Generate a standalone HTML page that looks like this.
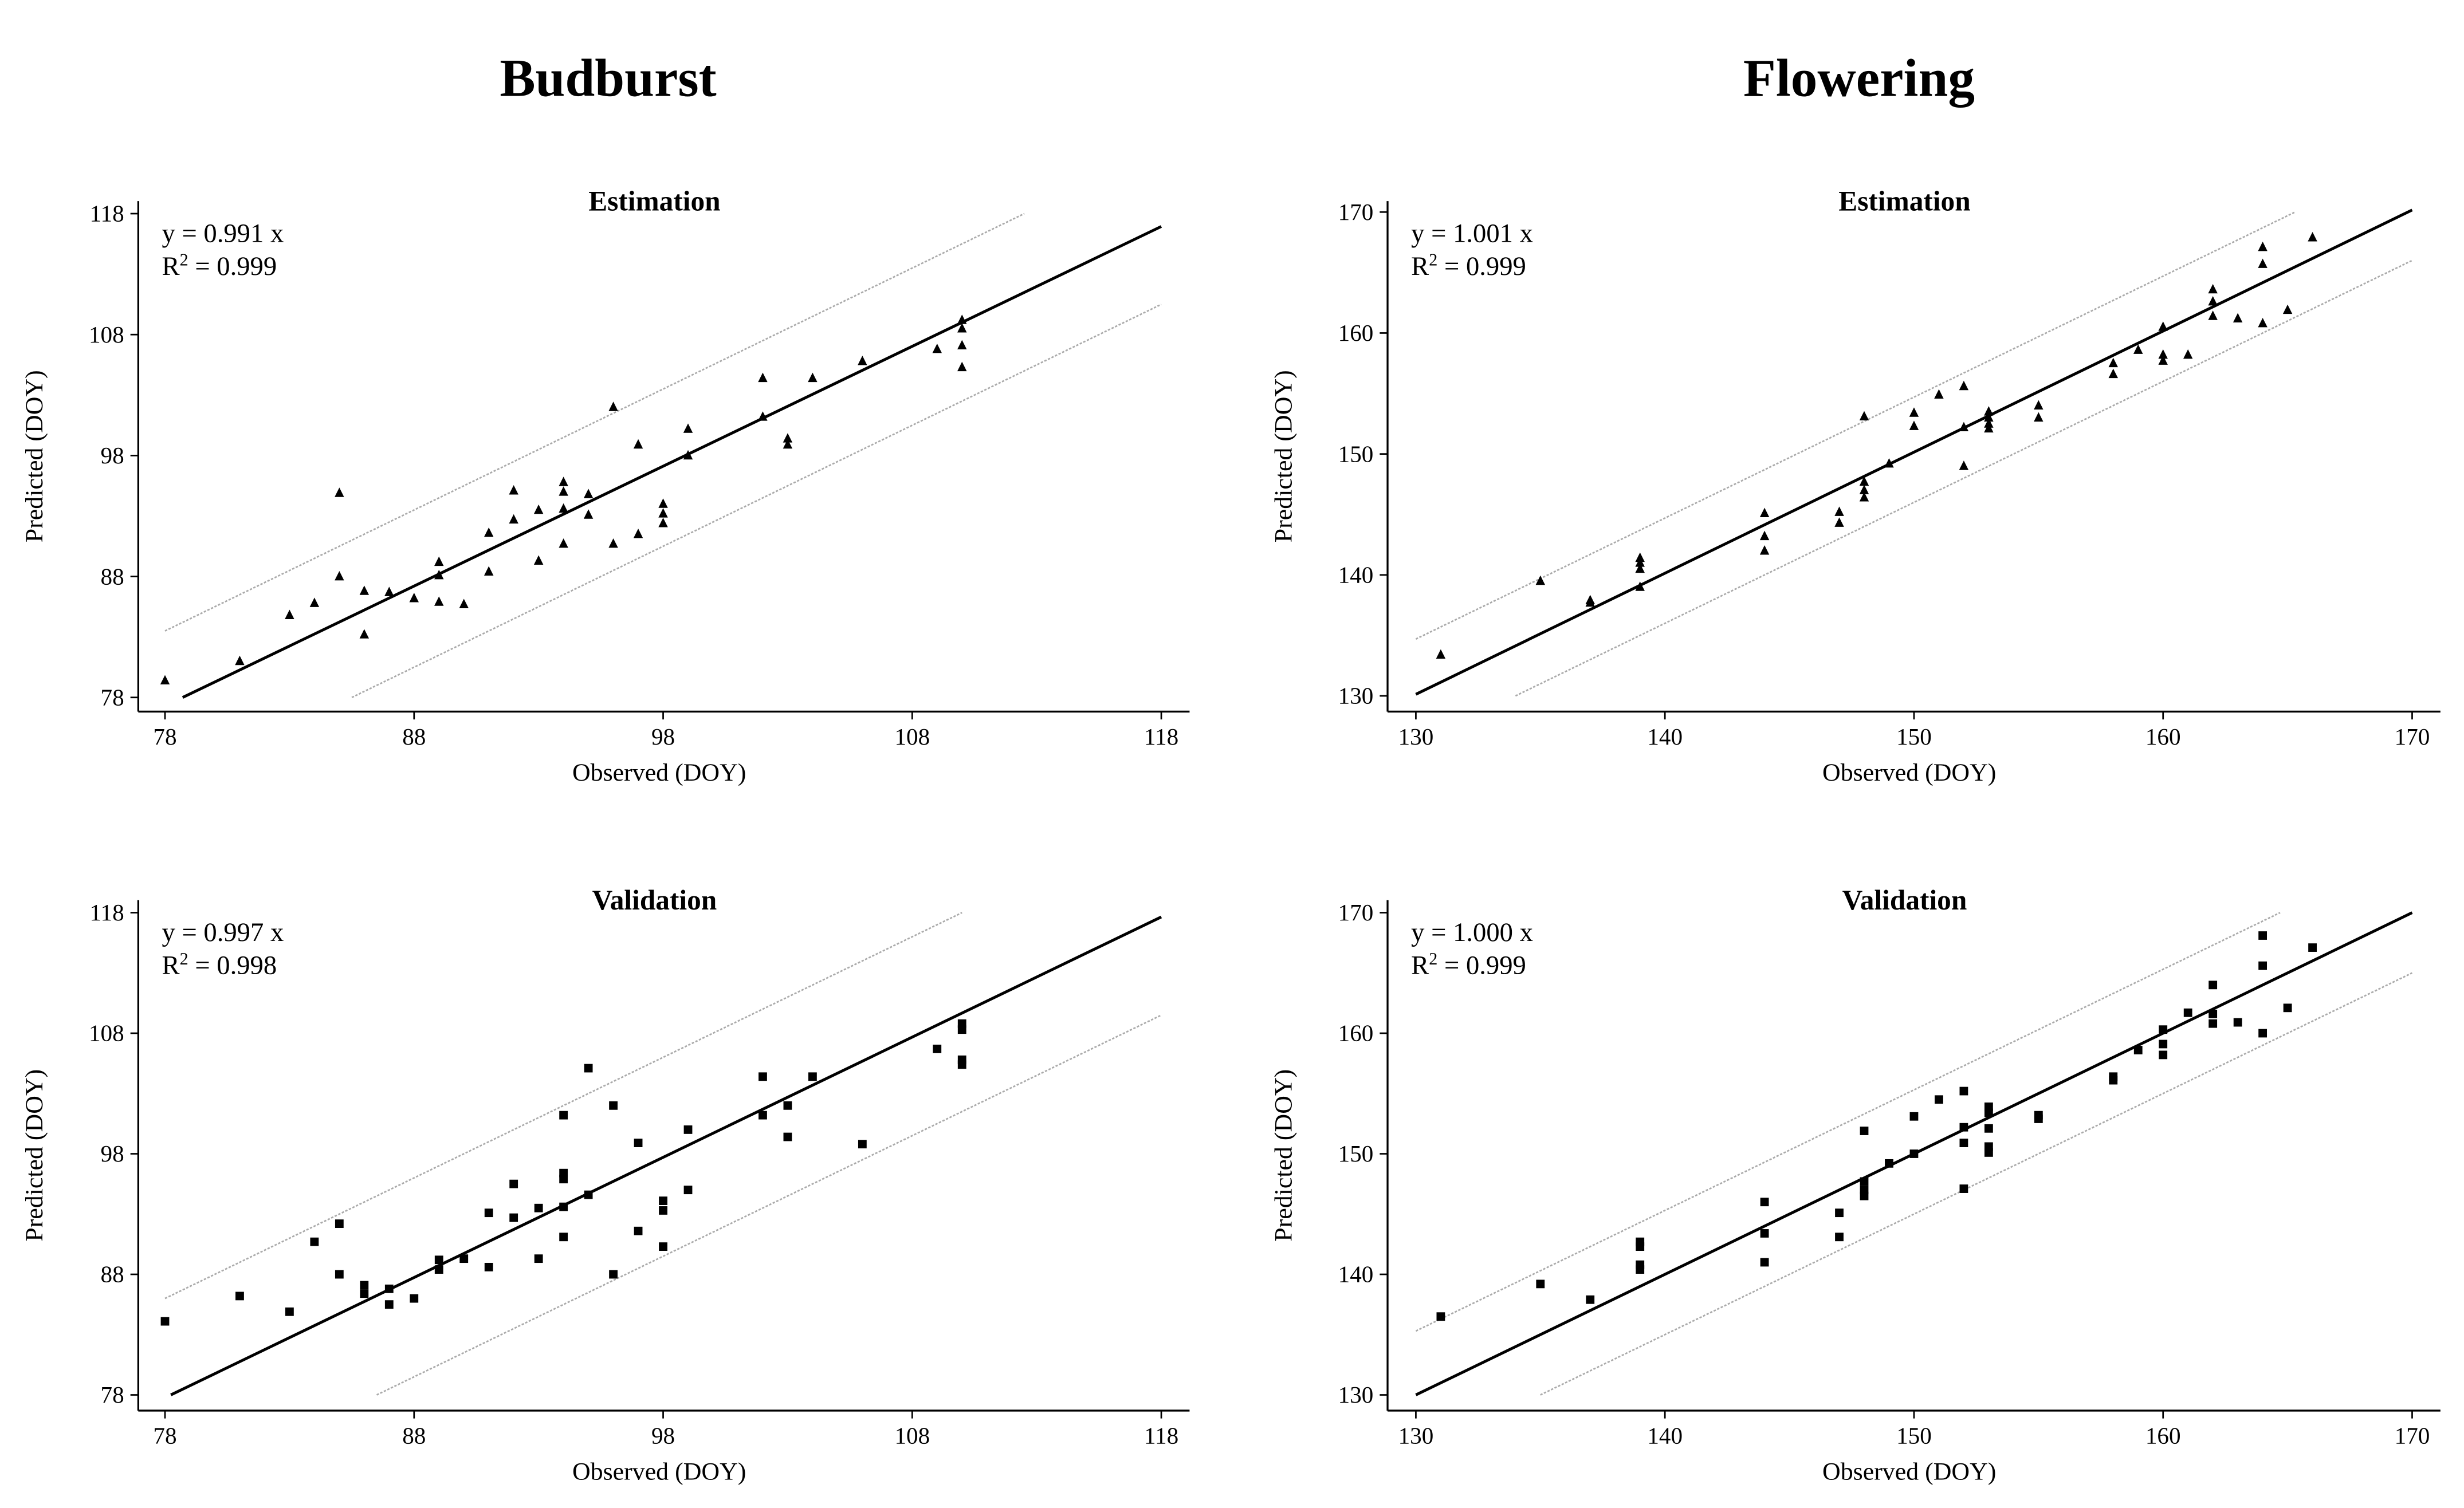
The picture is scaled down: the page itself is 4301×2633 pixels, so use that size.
<!DOCTYPE html>
<html><head><meta charset="utf-8"><style>
html,body{margin:0;padding:0;background:#fff;}
svg{display:block;font-family:"Liberation Serif",serif;}
</style></head><body>
<svg id="chart" width="4301" height="2633" viewBox="0 0 1568 960" preserveAspectRatio="none" xmlns="http://www.w3.org/2000/svg">
<rect width="1568" height="960" fill="#fff"/>
<text x="387" y="61" text-anchor="middle" font-size="34" font-weight="bold">Budburst</text>
<text x="1183" y="61" text-anchor="middle" font-size="34" font-weight="bold">Flowering</text>
</svg>
<script>
// ---- data ----
const bbEstObs = [78,81,83,84,85,85,86,86,87,88,89,89,89,90,91,91,92,92,93,93,94,94,94,94,95,95,96,96,97,97,98,98,98,99,99,102,102,103,103,104,106,109,110,110,110,110];
const bbEstPred = [79.4,81,84.8,85.8,94.9,88,86.8,83.2,86.7,86.2,89.2,88.1,85.9,85.7,91.6,88.4,95.1,92.7,93.5,89.3,95.8,95,93.6,90.7,94.8,93.1,102,90.7,98.9,91.5,94,93.2,92.4,100.2,98,104.4,101.2,99.4,98.9,104.4,105.8,106.8,109.2,108.5,107.1,105.3];
const bbValObs = [78,81,83,84,85,85,86,86,87,87,88,89,89,90,91,91,92,92,93,93,94,94,94,94,94,95,95,96,96,97,97,98,98,98,99,99,102,102,103,103,104,106,109,110,110,110,110];
const bbValPred = [84.1,86.2,84.9,90.7,92.2,88,87.1,86.4,86.8,85.5,86,89.2,88.4,89.3,93.1,88.6,95.5,92.7,93.5,89.3,101.2,96.4,95.9,93.6,91.1,105.1,94.6,102,88,98.9,91.6,94.1,93.3,90.3,100,95,104.4,101.2,102,99.4,104.4,98.8,106.7,108.8,108.3,105.8,105.4];
const flEstObs = [131,135,137,137,139,139,139,139,144,144,144,147,147,148,148,148,148,149,150,150,151,152,152,152,153,153,153,153,155,155,158,158,159,160,160,160,161,162,162,162,163,164,164,164,165,166];
const flEstPred = [133.4,139.5,137.9,137.7,141.4,141,140.5,139,145.1,143.2,142,145.2,144.3,153.1,147.7,147,146.4,149.2,153.4,152.3,154.9,155.6,152.2,149,153.5,153,152.5,152.1,154,153,157.5,156.6,158.6,160.5,158.2,157.7,158.2,163.6,162.6,161.4,161.2,167.1,165.7,160.8,161.9,167.9];
const flValObs = [131,135,137,139,139,139,139,144,144,144,147,147,148,148,148,148,149,150,150,151,152,152,152,152,153,153,153,153,153,155,155,158,158,159,160,160,160,161,162,162,162,163,164,164,164,165,166];
const flValPred = [136.5,139.2,137.9,142.7,142.3,140.8,140.4,146,143.4,141,145.1,143.1,151.9,147.7,147,146.5,149.2,153.1,150,154.5,155.2,152.2,150.9,147.1,153.9,153.4,152.1,150.6,150.1,153.2,152.9,156.4,156.1,158.6,160.3,159.1,158.2,161.7,164,161.6,160.8,160.9,168.1,165.6,160,162.1,167.1];
const bbTicks = [78,88,98,108,118];
const flTicks = [130,140,150,160,170];
const slopes = [0.991,0.997,1.001,1.000];
const r2s = ["0.999","0.998","0.999","0.999"];
const bandUp = [5.5,8,4.7,5.3];
const bandLo = [-7.5,-8.5,-4,-5];

const NS="http://www.w3.org/2000/svg";
const svg=document.getElementById('chart');
function mk(tag,attrs,parent){const e=document.createElementNS(NS,tag);for(const k in attrs)e.setAttribute(k,attrs[k]);(parent||svg).appendChild(e);return e;}

const panels=[
 {id:'budburst-estimation',sub:'Estimation',obs:bbEstObs,pred:bbEstPred,ticks:bbTicks,ax:88,axR:757,yTop:128,yBot:453,px0:105,px1:739,py0:444,py1:136,marker:'tri'},
 {id:'budburst-validation',sub:'Validation',obs:bbValObs,pred:bbValPred,ticks:bbTicks,ax:88,axR:757,yTop:573,yBot:898,px0:105,px1:739,py0:888,py1:581,marker:'sq'},
 {id:'flowering-estimation',sub:'Estimation',obs:flEstObs,pred:flEstPred,ticks:flTicks,ax:883,axR:1553,yTop:128,yBot:453,px0:901,px1:1535,py0:443,py1:135,marker:'tri'},
 {id:'flowering-validation',sub:'Validation',obs:flValObs,pred:flValPred,ticks:flTicks,ax:883,axR:1553,yTop:573,yBot:898,px0:901,px1:1535,py0:888,py1:581,marker:'sq'}
];

panels.forEach((p,i)=>{
 const g=mk('g',{});
 
 
 const lo=p.ticks[0],hi=p.ticks[p.ticks.length-1];
 const X=v=>p.px0+(v-lo)/(hi-lo)*(p.px1-p.px0);
 const Y=v=>p.py0-(v-lo)/(hi-lo)*(p.py0-p.py1);
 // axes
 const ya=mk('line',{x1:p.ax,y1:p.yTop,x2:p.ax,y2:p.yBot,stroke:'#000','stroke-width':1.2},g);
 
 
 const xa=mk('line',{x1:p.ax,y1:p.yBot,x2:p.axR,y2:p.yBot,stroke:'#000','stroke-width':1.2},g);
 
 
 p.ticks.forEach(t=>{
  mk('line',{x1:X(t),y1:p.yBot,x2:X(t),y2:p.yBot+5,stroke:'#000','stroke-width':1},g);
  const tx=mk('text',{x:X(t),y:p.yBot+21,'text-anchor':'middle','font-size':15},g);
  tx.textContent=t;
  
  
  mk('line',{x1:p.ax-5,y1:Y(t),x2:p.ax,y2:Y(t),stroke:'#000','stroke-width':1},g);
  const ty=mk('text',{x:p.ax-9,y:Y(t)+5,'text-anchor':'end','font-size':15},g);
  ty.textContent=t;
  
  
 });
 const xl=mk('text',{x:(p.ax+p.axR)/2-3,y:p.yBot+44,'text-anchor':'middle','font-size':16},g);
 xl.textContent='Observed (DOY)';
 
 
 const cy=(p.yTop+p.yBot)/2;
 const yl=mk('text',{x:0,y:0,'text-anchor':'middle','font-size':16,transform:`translate(${p.ax-61},${cy}) rotate(-90)`},g);
 yl.textContent='Predicted (DOY)';
 
 
 const st=mk('text',{x:(p.ax+p.axR)/2-6+(i>=2?-0:0),y:p.yTop+6,'text-anchor':'middle','font-size':18,'font-weight':'bold'},g);
 st.textContent=p.sub;
 
 
 const eq=mk('text',{x:p.ax+15,y:p.yTop+26,'font-size':17},g);
 eq.textContent='y = '+slopes[i].toFixed(3)+' x';
 
 
 const r=mk('text',{x:p.ax+15,y:p.yTop+47,'font-size':17},g);
 r.innerHTML='R<tspan dy="-6" font-size="11">2</tspan><tspan dy="6"> = '+r2s[i]+'</tspan>';
 
 
 // bands
 [bandUp[i],bandLo[i]].forEach((off,k)=>{
  const a=Math.max(lo,lo-off), b=Math.min(hi,hi-off);
  const bl=mk('line',{x1:X(a),y1:Y(a+off),x2:X(b),y2:Y(b+off),stroke:'#aaa','stroke-width':1,'stroke-dasharray':'1.5,1'},g);
  
  
 });
 // regression line
 const s=slopes[i];
 const x0=Math.max(lo,lo/s);
 const rl=mk('line',{x1:X(x0),y1:Y(s*x0),x2:X(hi),y2:Y(s*hi),stroke:'#000','stroke-width':1.8},g);
 
 
 // points
 p.obs.forEach((o,j)=>{
  const cx=X(o),cyy=Y(p.pred[j]);
  let m;
  if(p.marker==='tri') m=mk('polygon',{points:`${cx},${cyy-3.5} ${cx-3},${cyy+2.5} ${cx+3},${cyy+2.5}`,fill:'#000'},g);
  else m=mk('rect',{x:cx-2.7,y:cyy-2.7,width:5.4,height:5.4,fill:'#000'},g);
  
  
 });
});
</script>
</body></html>
